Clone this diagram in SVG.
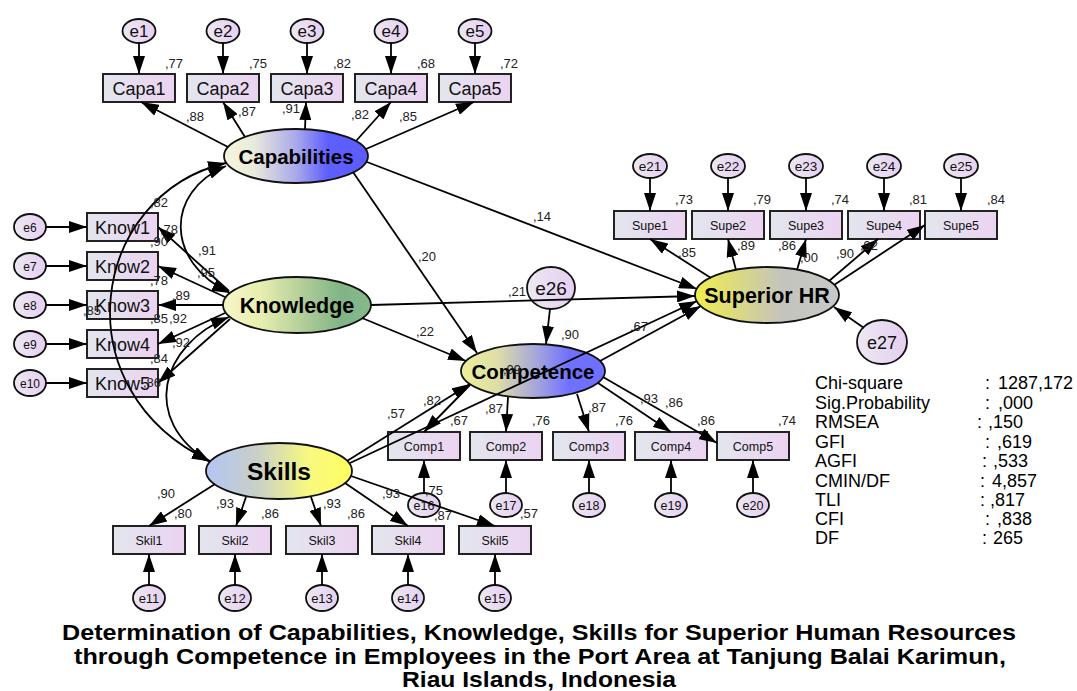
<svg xmlns="http://www.w3.org/2000/svg" width="1077" height="691" viewBox="0 0 1077 691">
<defs>
<style>
.box{fill:url(#gBox);stroke:#222;stroke-width:2}
.err{fill:url(#gErr);stroke:#111;stroke-width:1.8}
.lat{stroke:#111;stroke-width:1.8}
.c{fill:none;stroke:#000;stroke-width:1.8;marker-end:url(#ah)}
.cov{fill:none;stroke:#000;stroke-width:1.8;marker-start:url(#ah);marker-end:url(#ah)}
text{font-family:"Liberation Sans",Arial,sans-serif;fill:#111}
.mid{text-anchor:middle}
.lbl{font-size:13px;fill:#222}
.big{font-size:18px}
.sm{font-size:12.5px}
.lt{font-weight:bold;text-anchor:middle;fill:#000}
.fit{font-size:18px;fill:#000}
.ttl{font-family:"Liberation Sans",Arial,sans-serif;font-weight:bold;font-size:22px;text-anchor:middle;fill:#000}
</style>
<marker id="ah" viewBox="0 0 18 12" refX="18" refY="6" markerWidth="18" markerHeight="12" markerUnits="userSpaceOnUse" orient="auto-start-reverse"><path d="M0,0 L18,6 L0,12 z" fill="#000"/></marker>
<linearGradient id="gBox" x1="0" y1="0" x2="1" y2="0"><stop offset="0" stop-color="#e2e6ee"/><stop offset="1" stop-color="#ecd3f1"/></linearGradient>
<linearGradient id="gErr" x1="0" y1="0" x2="1" y2="0"><stop offset="0" stop-color="#ece8f2"/><stop offset="1" stop-color="#e6cff0"/></linearGradient>
<linearGradient id="gCap" x1="0" y1="0" x2="1" y2="0"><stop offset="0" stop-color="#f5f5de"/><stop offset="0.2" stop-color="#ebebdc"/><stop offset="0.5" stop-color="#a9a9ea"/><stop offset="0.72" stop-color="#5f5fff"/><stop offset="1" stop-color="#5b5bff"/></linearGradient>
<linearGradient id="gKnow" x1="0" y1="0" x2="1" y2="0"><stop offset="0" stop-color="#f6f6c8"/><stop offset="0.25" stop-color="#e8efb0"/><stop offset="0.55" stop-color="#b0cc98"/><stop offset="0.8" stop-color="#80b486"/><stop offset="1" stop-color="#86b88a"/></linearGradient>
<linearGradient id="gComp" x1="0" y1="0" x2="1" y2="0"><stop offset="0" stop-color="#eeee9a"/><stop offset="0.25" stop-color="#dedea8"/><stop offset="0.55" stop-color="#a0a0e0"/><stop offset="0.75" stop-color="#7070ff"/><stop offset="1" stop-color="#7070ff"/></linearGradient>
<linearGradient id="gSkill" x1="0" y1="0" x2="1" y2="0"><stop offset="0" stop-color="#b4c4f4"/><stop offset="0.35" stop-color="#c8d0c8"/><stop offset="0.7" stop-color="#f8f880"/><stop offset="1" stop-color="#ffff60"/></linearGradient>
<linearGradient id="gSHR" x1="0" y1="0" x2="1" y2="0"><stop offset="0" stop-color="#eeee50"/><stop offset="0.2" stop-color="#e2e070"/><stop offset="0.6" stop-color="#c4c4bc"/><stop offset="1" stop-color="#c8c8c8"/></linearGradient>
</defs>
<rect width="1077" height="691" fill="#fff"/>

<g id="nodes">
<g id="e1"><ellipse class="err" cx="139" cy="31" rx="16.5" ry="12"/><text class="mid" x="139" y="37" font-size="17">e1</text></g>
<g id="e2"><ellipse class="err" cx="223" cy="31" rx="16.5" ry="12"/><text class="mid" x="223" y="37" font-size="17">e2</text></g>
<g id="e3"><ellipse class="err" cx="307" cy="31" rx="16.5" ry="12"/><text class="mid" x="307" y="37" font-size="17">e3</text></g>
<g id="e4"><ellipse class="err" cx="391" cy="31" rx="16.5" ry="12"/><text class="mid" x="391" y="37" font-size="17">e4</text></g>
<g id="e5"><ellipse class="err" cx="475" cy="31" rx="16.5" ry="12"/><text class="mid" x="475" y="37" font-size="17">e5</text></g>
<g id="Capa1"><rect class="box" x="103" y="74" width="72" height="28"/><text class="mid big" x="139" y="94.5">Capa1</text></g>
<g id="Capa2"><rect class="box" x="187" y="74" width="72" height="28"/><text class="mid big" x="223" y="94.5">Capa2</text></g>
<g id="Capa3"><rect class="box" x="271" y="74" width="72" height="28"/><text class="mid big" x="307" y="94.5">Capa3</text></g>
<g id="Capa4"><rect class="box" x="355" y="74" width="72" height="28"/><text class="mid big" x="391" y="94.5">Capa4</text></g>
<g id="Capa5"><rect class="box" x="439" y="74" width="72" height="28"/><text class="mid big" x="475" y="94.5">Capa5</text></g>

<g id="e6"><ellipse class="err" cx="30" cy="227" rx="16" ry="13"/><text class="mid" x="30" y="231.5" font-size="12">e6</text></g>
<g id="e7"><ellipse class="err" cx="30" cy="266" rx="16" ry="13"/><text class="mid" x="30" y="270.5" font-size="12">e7</text></g>
<g id="e8"><ellipse class="err" cx="30" cy="305" rx="16" ry="13"/><text class="mid" x="30" y="309.5" font-size="12">e8</text></g>
<g id="e9"><ellipse class="err" cx="30" cy="344" rx="16" ry="13"/><text class="mid" x="30" y="348.5" font-size="12">e9</text></g>
<g id="e10"><ellipse class="err" cx="30" cy="383" rx="16" ry="13"/><text class="mid" x="30" y="387.5" font-size="12">e10</text></g>
<g id="Know1"><rect class="box" x="87" y="213" width="71" height="28"/><text class="mid big" x="122.5" y="233.5">Know1</text></g>
<g id="Know2"><rect class="box" x="87" y="252" width="71" height="28"/><text class="mid big" x="122.5" y="272.5">Know2</text></g>
<g id="Know3"><rect class="box" x="87" y="291" width="71" height="28"/><text class="mid big" x="122.5" y="311.5">Know3</text></g>
<g id="Know4"><rect class="box" x="87" y="330" width="71" height="28"/><text class="mid big" x="122.5" y="350.5">Know4</text></g>
<g id="Know5"><rect class="box" x="87" y="369" width="71" height="28"/><text class="mid big" x="122.5" y="389.5">Know5</text></g>

<g id="Skil1"><rect class="box" x="113" y="526" width="72" height="28"/><text class="mid sm" x="149" y="544.5">Skil1</text></g>
<g id="Skil2"><rect class="box" x="199" y="526" width="72" height="28"/><text class="mid sm" x="235" y="544.5">Skil2</text></g>
<g id="Skil3"><rect class="box" x="286" y="526" width="72" height="28"/><text class="mid sm" x="322" y="544.5">Skil3</text></g>
<g id="Skil4"><rect class="box" x="372" y="526" width="72" height="28"/><text class="mid sm" x="408" y="544.5">Skil4</text></g>
<g id="Skil5"><rect class="box" x="459" y="526" width="72" height="28"/><text class="mid sm" x="495" y="544.5">Skil5</text></g>
<g id="e11"><ellipse class="err" cx="149" cy="598" rx="16" ry="13"/><text class="mid" x="149" y="602.5" font-size="13">e11</text></g>
<g id="e12"><ellipse class="err" cx="235" cy="598" rx="16" ry="13"/><text class="mid" x="235" y="602.5" font-size="13">e12</text></g>
<g id="e13"><ellipse class="err" cx="322" cy="598" rx="16" ry="13"/><text class="mid" x="322" y="602.5" font-size="13">e13</text></g>
<g id="e14"><ellipse class="err" cx="408" cy="598" rx="16" ry="13"/><text class="mid" x="408" y="602.5" font-size="13">e14</text></g>
<g id="e15"><ellipse class="err" cx="495" cy="598" rx="16" ry="13"/><text class="mid" x="495" y="602.5" font-size="13">e15</text></g>

<g id="Comp1"><rect class="box" x="388" y="432" width="72" height="28"/><text class="mid sm" x="424" y="450.5">Comp1</text></g>
<g id="Comp2"><rect class="box" x="470" y="432" width="72" height="28"/><text class="mid sm" x="506" y="450.5">Comp2</text></g>
<g id="Comp3"><rect class="box" x="553" y="432" width="72" height="28"/><text class="mid sm" x="589" y="450.5">Comp3</text></g>
<g id="Comp4"><rect class="box" x="635" y="432" width="72" height="28"/><text class="mid sm" x="671" y="450.5">Comp4</text></g>
<g id="Comp5"><rect class="box" x="717" y="432" width="72" height="28"/><text class="mid sm" x="753" y="450.5">Comp5</text></g>
<g id="e16"><ellipse class="err" cx="424" cy="505" rx="16" ry="12"/><text class="mid" x="424" y="509.5" font-size="12.5">e16</text></g>
<g id="e17"><ellipse class="err" cx="506" cy="505" rx="16" ry="12"/><text class="mid" x="506" y="509.5" font-size="12.5">e17</text></g>
<g id="e18"><ellipse class="err" cx="589" cy="505" rx="16" ry="12"/><text class="mid" x="589" y="509.5" font-size="12.5">e18</text></g>
<g id="e19"><ellipse class="err" cx="671" cy="505" rx="16" ry="12"/><text class="mid" x="671" y="509.5" font-size="12.5">e19</text></g>
<g id="e20"><ellipse class="err" cx="753" cy="505" rx="16" ry="12"/><text class="mid" x="753" y="509.5" font-size="12.5">e20</text></g>

<g id="e21"><ellipse class="err" cx="650" cy="166" rx="17" ry="12"/><text class="mid" x="650" y="171" font-size="13.5">e21</text></g>
<g id="e22"><ellipse class="err" cx="728" cy="166" rx="17" ry="12"/><text class="mid" x="728" y="171" font-size="13.5">e22</text></g>
<g id="e23"><ellipse class="err" cx="806" cy="166" rx="17" ry="12"/><text class="mid" x="806" y="171" font-size="13.5">e23</text></g>
<g id="e24"><ellipse class="err" cx="884" cy="166" rx="17" ry="12"/><text class="mid" x="884" y="171" font-size="13.5">e24</text></g>
<g id="e25"><ellipse class="err" cx="961" cy="166" rx="17" ry="12"/><text class="mid" x="961" y="171" font-size="13.5">e25</text></g>
<g id="Supe1"><rect class="box" x="614" y="211" width="72" height="28"/><text class="mid sm" x="650" y="229.5">Supe1</text></g>
<g id="Supe2"><rect class="box" x="692" y="211" width="72" height="28"/><text class="mid sm" x="728" y="229.5">Supe2</text></g>
<g id="Supe3"><rect class="box" x="770" y="211" width="72" height="28"/><text class="mid sm" x="806" y="229.5">Supe3</text></g>
<g id="Supe4"><rect class="box" x="848" y="211" width="72" height="28"/><text class="mid sm" x="884" y="229.5">Supe4</text></g>
<g id="Supe5"><rect class="box" x="925" y="211" width="72" height="28"/><text class="mid sm" x="961" y="229.5">Supe5</text></g>
<g id="e26"><ellipse class="err" cx="551" cy="288" rx="24" ry="21"/><text class="mid" x="551" y="295" font-size="19">e26</text></g>
<g id="e27"><ellipse class="err" cx="882" cy="342" rx="25" ry="22"/><text class="mid" x="882" y="348.5" font-size="18">e27</text></g>

<g id="Capabilities"><ellipse class="lat" fill="url(#gCap)" cx="296" cy="156" rx="72" ry="27"/><text class="lt" x="296" y="163.5" font-size="20.5">Capabilities</text></g>
<g id="Knowledge"><ellipse class="lat" fill="url(#gKnow)" cx="297" cy="305" rx="74" ry="28"/><text class="lt" x="297" y="313" font-size="21.5">Knowledge</text></g>
<g id="Skills"><ellipse class="lat" fill="url(#gSkill)" cx="279" cy="471" rx="73" ry="28"/><text class="lt" x="279" y="480" font-size="24.5">Skills</text></g>
<g id="Competence"><ellipse class="lat" fill="url(#gComp)" cx="533" cy="371" rx="72" ry="27"/><text class="lt" x="533" y="378.5" font-size="20.5">Competence</text></g>
<g id="SuperiorHR"><ellipse class="lat" fill="url(#gSHR)" cx="767" cy="295" rx="72" ry="28"/><text class="lt" x="767" y="303" font-size="21.5">Superior HR</text></g>
</g>

<g id="connectors">
<path class="c" d="M139,43 L139,74"/><path class="c" d="M223,43 L223,74"/><path class="c" d="M307,43 L307,74"/><path class="c" d="M391,43 L391,74"/><path class="c" d="M475,43 L475,74"/>
<path class="c" d="M228,147 L141,102"/><path class="c" d="M245,137 L223,102"/><path class="c" d="M305,129 L306,102"/><path class="c" d="M356,141 L391,102"/><path class="c" d="M366,149 L474,102"/>
<path class="c" d="M46,227 L87,227"/><path class="c" d="M46,266 L87,266"/><path class="c" d="M46,305 L87,305"/><path class="c" d="M46,344 L87,344"/><path class="c" d="M46,383 L87,383"/>
<path class="c" d="M229,291 L158,227"/><path class="c" d="M225,297 L158,266"/><path class="c" d="M223,305 L158,305"/><path class="c" d="M225,313 L158,344"/><path class="c" d="M230,319 L158,383"/>
<path class="cov" d="M226,163 C90,195 60,390 210,461"/>
<path class="cov" d="M226,166 C165,192 165,262 230,293"/>
<path class="cov" d="M229,317 C160,345 140,420 210,462"/>
<path class="c" d="M149,585 L149,554"/><path class="c" d="M235,585 L235,554"/><path class="c" d="M322,585 L322,554"/><path class="c" d="M408,585 L408,554"/><path class="c" d="M495,585 L495,554"/>
<path class="c" d="M215,484 L149,526"/><path class="c" d="M246,497 L236,526"/><path class="c" d="M311,497 L321,526"/><path class="c" d="M345,483 L408,526"/><path class="c" d="M351,476 L495,526"/>
<path class="c" d="M424,493 L424,460"/><path class="c" d="M506,493 L506,460"/><path class="c" d="M589,493 L589,460"/><path class="c" d="M671,493 L671,460"/><path class="c" d="M753,493 L753,460"/>
<path class="c" d="M470,385 L424,432"/><path class="c" d="M508,397 L506,432"/><path class="c" d="M577,394 L589,432"/><path class="c" d="M598,383 L671,432"/><path class="c" d="M603,377 L717,443"/>
<path class="c" d="M650,178 L650,211"/><path class="c" d="M728,178 L728,211"/><path class="c" d="M806,178 L806,211"/><path class="c" d="M884,178 L884,211"/><path class="c" d="M961,178 L961,211"/>
<path class="c" d="M711,278 L650,239"/><path class="c" d="M736,270 L728,239"/><path class="c" d="M797,270 L806,239"/><path class="c" d="M829,281 L878,239"/><path class="c" d="M834,285 L925,225"/>
<path class="c" d="M864,328 L834,307"/>
<path class="c" d="M353,172 L477,353"/>
<path class="c" d="M367,162 L697,289"/>
<path class="c" d="M362,318 L466,361"/>
<path class="c" d="M371,305 L695,296"/>
<path class="c" d="M600,361 L701,306"/>
<path class="c" d="M347,461 L470,384"/>
<path class="c" d="M350,463 L697,301"/>
<path class="c" d="M550,309 L546,344"/>
</g>

<g id="labels" class="lbl">
<text class="lbl" x="165" y="68">,77</text><text class="lbl" x="249" y="68">,75</text><text class="lbl" x="333" y="68">,82</text><text class="lbl" x="417" y="68">,68</text><text class="lbl" x="500" y="68">,72</text>
<text class="lbl" x="186" y="121">,88</text><text class="lbl" x="238" y="116">,87</text><text class="lbl" x="282" y="113">,91</text><text class="lbl" x="351" y="119">,82</text><text class="lbl" x="399" y="121">,85</text>
<text class="lbl" x="150" y="207">,82</text><text class="lbl" x="160" y="234">,78</text><text class="lbl" x="150" y="246">,90</text><text class="lbl" x="198" y="255">,91</text>
<text class="lbl" x="197" y="277">,95</text><text class="lbl" x="150" y="285">,78</text><text class="lbl" x="172" y="300">,89</text><text class="lbl" x="83" y="315">,85</text>
<text class="lbl" x="150" y="323">,85</text><text class="lbl" x="169" y="323">,92</text><text class="lbl" x="172" y="347">,92</text><text class="lbl" x="150" y="363">,84</text><text class="lbl" x="143" y="387">,86</text>
<text class="lbl" x="533" y="221">,14</text><text class="lbl" x="418" y="261">,20</text><text class="lbl" x="508" y="296">,21</text><text class="lbl" x="416" y="336">,22</text>
<text class="lbl" x="561" y="339">,90</text><text class="lbl" x="630" y="331">,67</text><text class="lbl" x="503" y="374">,09</text>
<text class="lbl" x="675" y="204">,73</text><text class="lbl" x="753" y="204">,79</text><text class="lbl" x="831" y="204">,74</text><text class="lbl" x="909" y="204">,81</text><text class="lbl" x="987" y="204">,84</text>
<text class="lbl" x="678" y="257">,85</text><text class="lbl" x="737" y="250">,89</text><text class="lbl" x="778" y="250">,86</text><text class="lbl" x="800" y="262">,00</text><text class="lbl" x="836" y="258">,90</text><text class="lbl" x="860" y="250">,92</text>
<text class="lbl" x="423" y="405">,82</text><text class="lbl" x="387" y="418">,57</text><text class="lbl" x="450" y="425">,67</text><text class="lbl" x="485" y="413">,87</text><text class="lbl" x="532" y="425">,76</text>
<text class="lbl" x="588" y="412">,87</text><text class="lbl" x="615" y="425">,76</text><text class="lbl" x="640" y="403">,93</text><text class="lbl" x="665" y="407">,86</text><text class="lbl" x="697" y="425">,86</text><text class="lbl" x="778" y="425">,74</text>
<text class="lbl" x="157" y="498">,90</text><text class="lbl" x="216" y="508">,93</text><text class="lbl" x="323" y="508">,93</text><text class="lbl" x="382" y="498">,93</text><text class="lbl" x="425" y="495">,75</text>
<text class="lbl" x="174" y="518">,80</text><text class="lbl" x="261" y="518">,86</text><text class="lbl" x="347" y="518">,86</text><text class="lbl" x="434" y="520">,87</text><text class="lbl" x="520" y="518">,57</text>
</g>

<g id="fit">
<text class="fit" x="815" y="389">Chi-square</text><text class="fit" x="985" y="389">:</text><text class="fit" x="998" y="389">1287,172</text>
<text class="fit" x="815" y="409">Sig.Probability</text><text class="fit" x="985" y="409">:</text><text class="fit" x="998" y="409">,000</text>
<text class="fit" x="815" y="428">RMSEA</text><text class="fit" x="977" y="428">:</text><text class="fit" x="988" y="428">,150</text>
<text class="fit" x="815" y="448">GFI</text><text class="fit" x="985" y="448">:</text><text class="fit" x="997" y="448">,619</text>
<text class="fit" x="815" y="467">AGFI</text><text class="fit" x="982" y="467">:</text><text class="fit" x="993" y="467">,533</text>
<text class="fit" x="815" y="487">CMIN/DF</text><text class="fit" x="980" y="487">:</text><text class="fit" x="992" y="487">4,857</text>
<text class="fit" x="815" y="506">TLI</text><text class="fit" x="980" y="506">:</text><text class="fit" x="990" y="506">,817</text>
<text class="fit" x="815" y="525">CFI</text><text class="fit" x="985" y="525">:</text><text class="fit" x="997" y="525">,838</text>
<text class="fit" x="815" y="544">DF</text><text class="fit" x="982" y="544">:</text><text class="fit" x="993" y="544">265</text>
</g>

<g id="title">
<text class="ttl" x="539" y="640" textLength="954" lengthAdjust="spacingAndGlyphs">Determination of Capabilities, Knowledge, Skills for Superior Human Resources</text>
<text class="ttl" x="540" y="664" textLength="932" lengthAdjust="spacingAndGlyphs">through Competence in Employees in the Port Area at Tanjung Balai Karimun,</text>
<text class="ttl" x="539" y="687" textLength="274" lengthAdjust="spacingAndGlyphs">Riau Islands, Indonesia</text>
</g>
</svg>
